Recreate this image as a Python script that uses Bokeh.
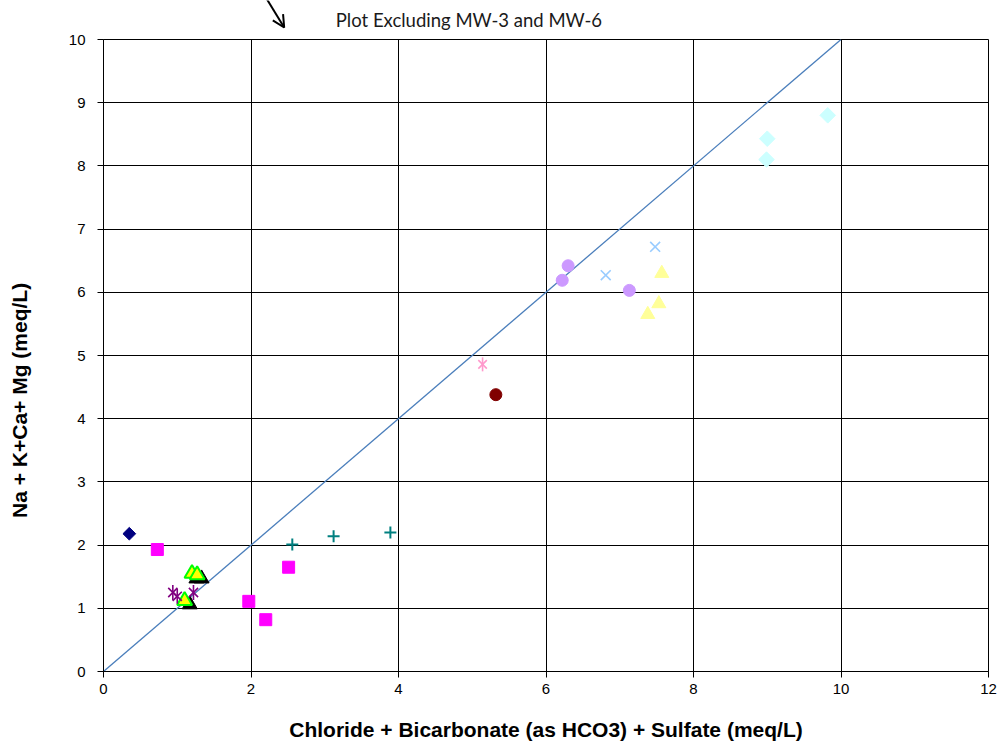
import math
from bokeh.plotting import figure
from bokeh.layouts import column, row
from bokeh.models import Range1d, Arrow, OpenHead, FixedTicker
from bokeh.core.properties import value
from bokeh.embed import file_html
from bokeh.resources import INLINE

# Data
navy_x = [0.35]; navy_y = [2.18]
mag_x = [0.73, 1.97, 2.20, 2.51]; mag_y = [1.93, 1.11, 0.82, 1.65]
blk_x = [1.26, 1.33, 1.17]; blk_y = [1.47, 1.47, 1.06]
yel_x = [1.20, 1.27, 1.10]; yel_y = [1.55, 1.53, 1.12]
pur_ast_x = [0.94, 1.00, 1.22]; pur_ast_y = [1.25, 1.19, 1.25]
teal_x = [2.56, 3.12, 3.89]; teal_y = [2.01, 2.14, 2.20]
pink_x = [5.14]; pink_y = [4.86]
red_x = [5.32]; red_y = [4.38]
lav_x = [6.22, 6.30, 7.13]; lav_y = [6.19, 6.42, 6.03]
lb_x = [6.81, 7.48]; lb_y = [6.27, 6.72]
ly_x = [7.57, 7.53, 7.38]; ly_y = [6.30, 5.82, 5.65]
cy_x = [9.00, 8.99, 9.82]; cy_y = [8.43, 8.10, 8.80]
line_x = [0, 10]; line_y = [0, 10]
x_ticks = [0, 2, 4, 6, 8, 10, 12]
y_ticks = list(range(0, 11))
note_text = ["Plot Excluding MW-3 and MW-6"]
x_title = "Chloride + Bicarbonate (as HCO3) + Sulfate (meq/L)"
y_title = ["Na + K+Ca+ Mg (meq/L)"]

FONT = "Arial"


def blank(fig):
    fig.axis.visible = False
    fig.grid.visible = False
    fig.outline_line_color = None
    fig.background_fill_color = "white"
    fig.border_fill_color = "white"


# --- top strip with note and arrow ---
top = figure(width=998, height=31, output_backend="svg", toolbar_location=None,
             x_range=Range1d(0, 12), y_range=Range1d(0, 31),
             min_border_left=103, min_border_right=10, min_border_top=0, min_border_bottom=0)
blank(top)
top.text(x=[3.15], y=[12], text=note_text, text_font=value("Lato"), text_font_size="18.5px",
         text_color="#1a1a1a", text_baseline="middle", text_align="left")
top.add_layout(Arrow(x_start=2.21, y_start=33, x_end=2.45, y_end=4,
                     line_color="black", line_width=2,
                     end=OpenHead(size=12, line_color="black", line_width=2)))

# --- left strip with the y-axis title ---
left = figure(width=40, height=712, output_backend="svg", toolbar_location=None,
              x_range=Range1d(0, 40), y_range=Range1d(0, 10),
              min_border_left=0, min_border_right=0, min_border_top=8, min_border_bottom=72)
blank(left)
left.text(x=[19], y=[4.29], text=y_title, angle=math.pi / 2, text_font=value(FONT),
          text_font_style="bold", text_font_size="21px", text_color="black",
          text_align="center", text_baseline="middle")

# --- main chart ---
p = figure(width=958, height=712, output_backend="svg", toolbar_location=None,
           x_range=Range1d(0, 12), y_range=Range1d(0, 10),
           min_border_left=63, min_border_right=10, min_border_top=8, min_border_bottom=72)
p.background_fill_color = "white"
p.border_fill_color = "white"
p.outline_line_color = "black"

for ax in (p.xaxis[0], p.yaxis[0]):
    ax.axis_line_color = "black"
    ax.major_tick_line_color = "black"
    ax.minor_tick_line_color = None
    ax.major_tick_in = 0
    ax.major_tick_out = 6
    ax.major_label_text_font = FONT
    ax.major_label_text_font_size = "15px"
    ax.major_label_text_color = "black"
    ax.axis_label_text_font = FONT
    ax.axis_label_text_font_style = "bold"
    ax.axis_label_text_font_size = "21px"
    ax.axis_label_text_color = "black"
p.xaxis[0].ticker = FixedTicker(ticks=x_ticks)
p.yaxis[0].ticker = FixedTicker(ticks=y_ticks)
p.xaxis.axis_label = x_title
p.xaxis.axis_label_standoff = 21
p.xaxis.major_label_standoff = 6
p.yaxis.major_label_standoff = 12
p.grid.grid_line_color = "black"
p.grid.grid_line_alpha = 1.0
p.grid.grid_line_width = 1
p.xgrid.ticker = FixedTicker(ticks=x_ticks)
p.ygrid.ticker = FixedTicker(ticks=y_ticks)

p.line(line_x, line_y, line_color="#4A7EBB", line_width=1.3)

d = math.pi / 4
p.scatter(navy_x, navy_y, marker="square", angle=d, size=9, fill_color="#000080", line_color="#000080")
p.scatter(mag_x, mag_y, marker="square", size=12, fill_color="#FF00FF", line_color="#FF00FF")
p.scatter(blk_x, blk_y, marker="triangle", size=15, fill_color="black", line_color="black")
p.scatter(yel_x, yel_y, marker="triangle", size=15, fill_color="#FFFF00", line_color="#00FF00", line_width=2)
p.scatter(pur_ast_x, pur_ast_y, marker="x", size=13, line_color="#800080", line_width=1.6)
p.scatter(pur_ast_x, pur_ast_y, marker="dash", angle=math.pi / 2, size=15, line_color="#800080", line_width=1.6)
p.scatter(teal_x, teal_y, marker="cross", size=12, line_color="#008080", line_width=2)
p.scatter(pink_x, pink_y, marker="x", size=12, line_color="#FF99CC", line_width=1.6)
p.scatter(pink_x, pink_y, marker="dash", angle=math.pi / 2, size=14, line_color="#FF99CC", line_width=1.6)
p.scatter(red_x, red_y, marker="circle", size=12, fill_color="#800000", line_color="#800000")
p.scatter(lav_x, lav_y, marker="circle", size=12, fill_color="#CC99FF", line_color="#CC99FF")
p.scatter(lb_x, lb_y, marker="x", size=14, line_color="#99CCFF", line_width=1.6)
p.scatter(ly_x, ly_y, marker="triangle", size=14, fill_color="#FFFF99", line_color="#FFFF99")
p.scatter(cy_x, cy_y, marker="square", angle=d, size=11, fill_color="#CCFFFF", line_color="#CCFFFF")

layout = column(top, row(left, p, spacing=0), spacing=0)
open("out.html", "w").write(file_html(layout, INLINE))
